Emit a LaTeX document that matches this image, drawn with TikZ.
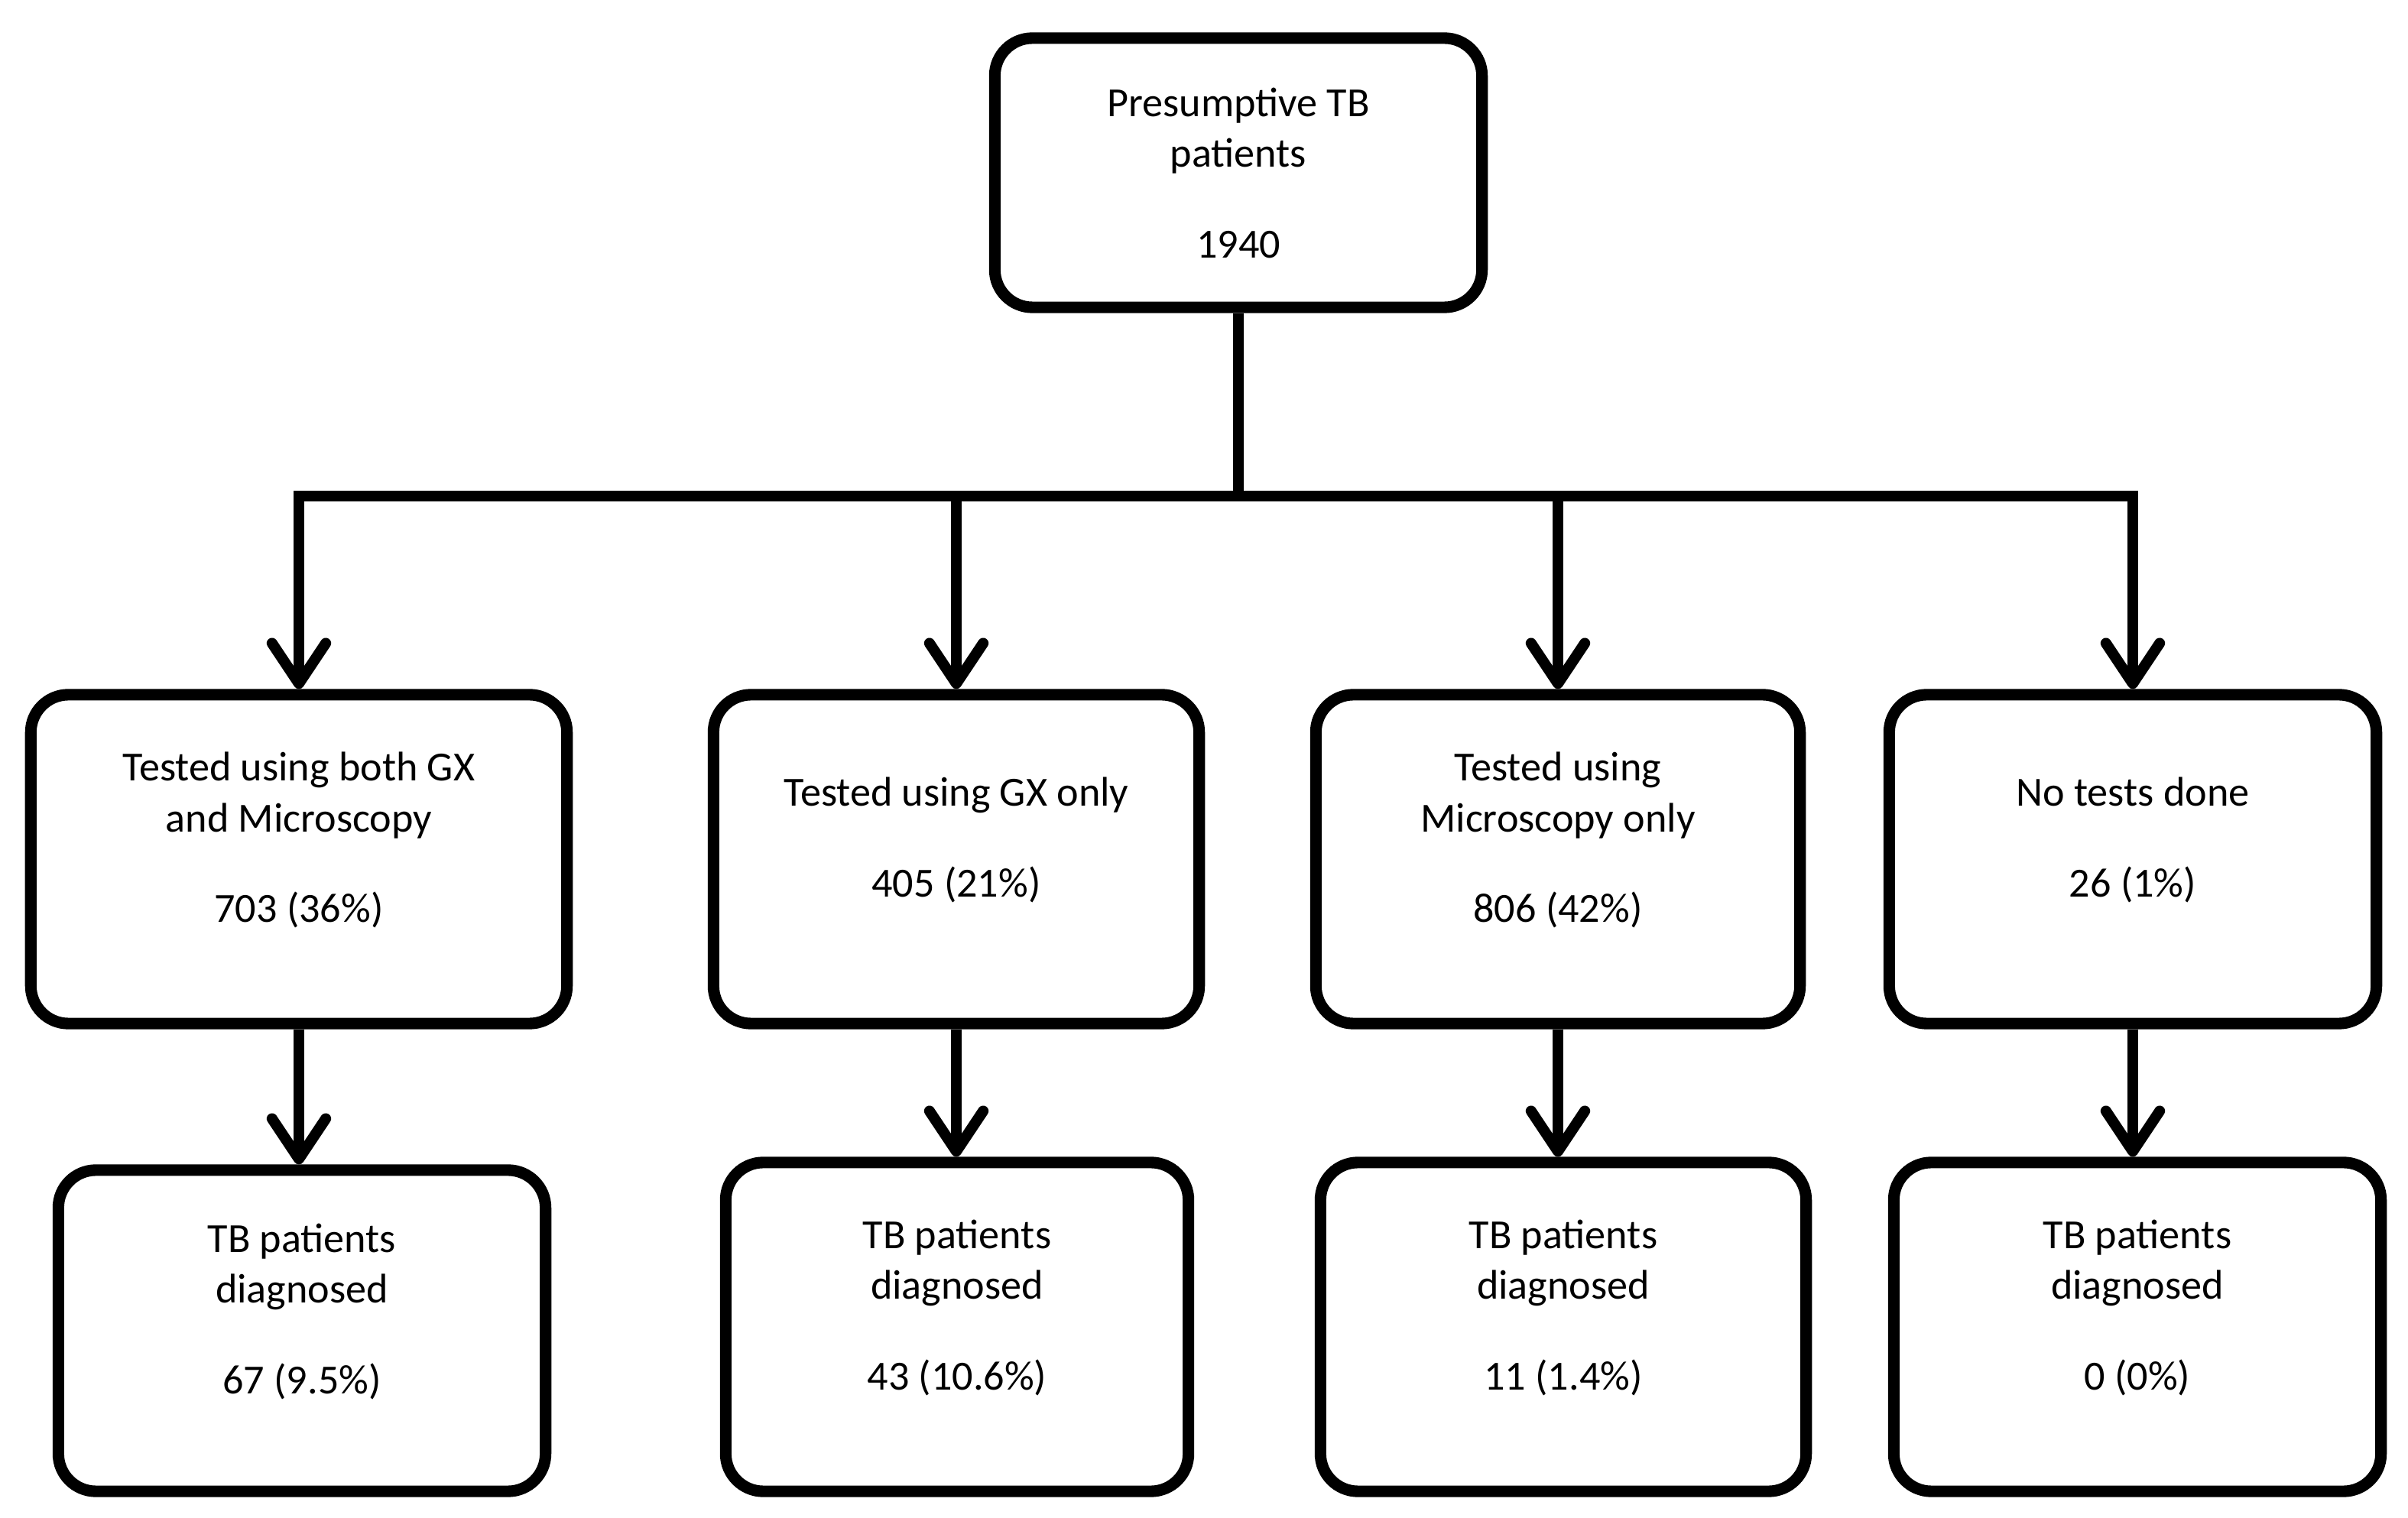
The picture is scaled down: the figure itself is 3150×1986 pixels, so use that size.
\documentclass[tikz,border=0pt]{standalone}
\usepackage{fontspec}
\setmainfont{Carlito}
\usetikzlibrary{arrows.meta}

\begin{document}
\begin{tikzpicture}[x=0.01cm,y=-0.01cm,line width=4pt,
	>={Straight Barb[length=15pt,width=20pt,round]},
	font=\fontsize{15.4}{18.8}\selectfont,
	box/.style={draw,line width=4.3pt,rounded corners=14pt,align=center,
		minimum width=6.37cm,minimum height=4.3cm},
	txt/.style={align=center,yshift=7pt}]
\useasboundingbox (0,0) rectangle (3150,1986);

% top
\node[box,minimum height=3.52cm] (top) at (1620,226)
	{Presumptive TB\\patients\\[15pt]1940};

% tests
\node[box,minimum width=7.01cm,
	label={[txt]center:{Tested using both GX\\and Microscopy\\[15pt]703 (36\%)}}]
	(both) at (391,1124) {};
\node[box,minimum width=6.35cm,
	label={[txt]center:{Tested using GX only\\[15pt]405 (21\%)}}]
	(gx) at (1251,1124) {};
\node[box,minimum width=6.33cm,
	label={[txt]center:{Tested using\\Microscopy only\\[15pt]806 (42\%)}}]
	(mic) at (2038,1124) {};
\node[box,
	label={[txt]center:{No tests done\\[15pt]26 (1\%)}}]
	(none) at (2790,1124) {};

% diagnosed
\node[box,minimum height=4.2cm,
	label={[txt]center:{TB patients\\diagnosed\\[15pt]67 (9.5\%)}}]
	(dboth) at (395,1741) {};
\node[box,minimum width=6.05cm,
	label={[txt]center:{TB patients\\diagnosed\\[15pt]43 (10.6\%)}}]
	(dgx) at (1252,1736) {};
\node[box,minimum width=6.35cm,
	label={[txt]center:{TB patients\\diagnosed\\[15pt]11 (1.4\%)}}]
	(dmic) at (2045,1736) {};
\node[box,
	label={[txt]center:{TB patients\\diagnosed\\[15pt]0 (0\%)}}]
	(dnone) at (2796,1736) {};

\coordinate (split) at (1620,649);
\draw (top) -- (split);
\draw[->] (split) -| (both);
\draw[->] (split) -| (none);
\foreach \n in {gx,mic}
	\draw[->] (split -| \n) -- (\n);
\foreach \a/\b in {both/dboth,gx/dgx,mic/dmic,none/dnone}
	\draw[->] (\a.south) -- (\a.south |- \b.north);

\end{tikzpicture}
\end{document}
